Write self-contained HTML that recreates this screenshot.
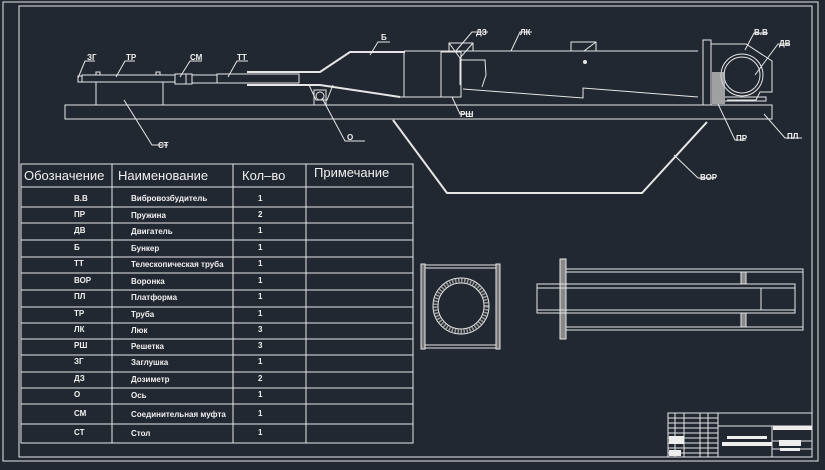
<!DOCTYPE html>
<html><head><meta charset="utf-8"><style>
html,body{margin:0;padding:0;background:#222831;}
svg{display:block}
text{fill:#f0f0f0;font-family:"Liberation Sans","DejaVu Sans",sans-serif;}
.s{stroke:#e6e6e6;stroke-width:1;fill:none}
.t{stroke:#e6e6e6;stroke-width:2;fill:none}
.l{font-size:8px;font-weight:bold}
</style></head><body>
<svg width="825" height="470" viewBox="0 0 825 470" xmlns="http://www.w3.org/2000/svg">
<rect width="825" height="470" fill="#222831"/>
<rect x="3" y="2" width="815" height="459" class="s"/>
<rect x="19" y="6" width="793" height="451" class="s"/>

<!-- platform -->
<rect x="65" y="105" width="707" height="14" class="s"/>
<!-- stand CT -->
<rect x="96" y="82" width="67" height="23" class="s"/>
<!-- pipe TP -->
<rect x="82" y="75" width="93" height="7" class="s"/>
<rect x="78" y="76" width="4" height="6" class="s"/>
<path d="M96 75v-3h4v3M156 75v-3h4v3" class="s"/>
<!-- CM -->
<rect x="175" y="74" width="17" height="10" class="s"/>
<line x1="186" y1="74" x2="186" y2="84" class="s"/>
<rect x="192" y="75" width="25" height="8" class="s"/>
<!-- TT -->
<rect x="217" y="74" width="82" height="9" class="s"/>
<path d="M247 72H300M247 85H300" class="t"/>
<!-- bunker cone -->
<path d="M300 72H320L350 52H405" class="t"/>
<path d="M300 85H320L400 97" class="t"/>
<!-- axis O -->
<path d="M309 85L316 100H327L333 85" class="s"/>
<rect x="314" y="90" width="12" height="15" class="s"/>
<circle cx="320" cy="96" r="4" class="s"/>
<!-- bunker body -->
<path d="M404 51H698" class="s"/>
<path d="M404 51V97M441 51V97" class="s"/>
<path d="M400 97H461" class="s"/>
<rect x="441" y="52" width="20" height="45" class="s"/>
<path d="M461 60L485 60 486 75 482 87" class="s"/>
<path d="M463 89L583 98V88L698 97" class="s"/>
<!-- DZ box -->
<path d="M449 51V43H473V51M449 43L460 58L473 43M460 58V85" class="s"/>
<path d="M571 51V42H596V51M584 51L596 42" class="s"/>
<circle cx="585" cy="62" r="2" fill="#e6e6e6"/>
<!-- flange, motor -->
<rect x="703" y="40" width="8" height="65" class="s"/>
<path d="M711 44H746L772 61V92H760L756 100H727" class="s"/>
<circle cx="742" cy="75" r="21" class="s"/>
<circle cx="742" cy="75" r="18" class="s"/>
<rect x="712" y="72" width="13" height="32" fill="#c8c8c8" opacity="0.75"/>
<path d="M725 97H766V101H725" class="s"/>
<!-- funnel -->
<path d="M393 120L447 193H642L707 122" class="t"/>

<!-- leaders -->
<g class="s">
<path d="M78 78L85 61H95"/><path d="M116 77L125 61H135"/><path d="M180 77L190 61H202"/><path d="M228 77L237 61H248"/>
<path d="M370 55L378 42H390"/><path d="M455 52L472 32H488"/><path d="M511 51L520 32H532"/>
<path d="M745 50L754 33H768"/><path d="M755 75L778 44H790"/>
<path d="M718 104L735 140H746"/><path d="M764 114L785 138H802"/>
<path d="M674 155L698 178H716"/><path d="M322 98L345 141H365"/>
<path d="M124 100L152 145H168"/><path d="M452 97L460 114H473"/>
</g>
<g class="l">
<text x="87" y="60">ЗГ</text><text x="126" y="60">ТР</text><text x="190" y="60">СМ</text><text x="237" y="60">ТТ</text>
<text x="381" y="40">Б</text><text x="476" y="35">ДЗ</text><text x="520" y="35">ЛК</text>
<text x="754" y="35">В.В</text><text x="779" y="46">ДВ</text><text x="736" y="141">ПР</text>
<text x="787" y="139">ПЛ</text><text x="700" y="180">ВОР</text><text x="347" y="140">О</text>
<text x="158" y="148">СТ</text><text x="460" y="117">РШ</text>
</g>

<!-- table -->
<g class="s">
<rect x="21" y="164" width="392" height="279"/>
<path d="M112 164V443M233 164V443M306 164V443"/>
<path d="M21 187H413M21 207H413M21 223H413M21 240H413M21 257H413M21 273H413M21 290H413M21 307H413M21 323H413M21 339H413M21 355H413M21 372H413M21 388H413M21 404H413M21 424H413"/>
</g>
<g font-size="13">
<text x="24" y="180">Обозначение</text><text x="118" y="180">Наименование</text><text x="242" y="180">Кол–во</text><text x="314" y="177">Примечание</text>
</g>
<g class="l">
<text x="74" y="201">В.В</text><text x="131" y="201">Вибровозбудитель</text><text x="258" y="201">1</text>
<text x="74" y="217">ПР</text><text x="131" y="218">Пружина</text><text x="258" y="217">2</text>
<text x="74" y="233">ДВ</text><text x="131" y="234">Двигатель</text><text x="258" y="233">1</text>
<text x="74" y="250">Б</text><text x="131" y="251">Бункер</text><text x="258" y="250">1</text>
<text x="74" y="266">ТТ</text><text x="131" y="267">Телескопическая труба</text><text x="258" y="266">1</text>
<text x="74" y="283">ВОР</text><text x="131" y="284">Воронка</text><text x="258" y="283">1</text>
<text x="74" y="299">ПЛ</text><text x="131" y="300">Платформа</text><text x="258" y="299">1</text>
<text x="74" y="316">ТР</text><text x="131" y="317">Труба</text><text x="258" y="316">1</text>
<text x="74" y="332">ЛК</text><text x="131" y="333">Люк</text><text x="258" y="332">3</text>
<text x="74" y="348">РШ</text><text x="131" y="349">Решетка</text><text x="258" y="348">3</text>
<text x="74" y="364">ЗГ</text><text x="131" y="365">Заглушка</text><text x="258" y="364">1</text>
<text x="74" y="381">ДЗ</text><text x="131" y="382">Дозиметр</text><text x="258" y="381">2</text>
<text x="74" y="397">О</text><text x="131" y="398">Ось</text><text x="258" y="397">1</text>
<text x="74" y="416">СМ</text><text x="131" y="417">Соединительная муфта</text><text x="258" y="416">1</text>
<text x="74" y="435">СТ</text><text x="131" y="436">Стол</text><text x="258" y="435">1</text>
</g>

<!-- section 1 -->
<g class="s">
<rect x="421" y="265" width="79" height="83"/>
<path d="M424 268H497M424 345H497"/>
<rect x="421" y="264" width="4" height="85" fill="#777"/>
<rect x="496" y="264" width="4" height="85" fill="#777"/>
<circle cx="461" cy="306" r="28"/>
<circle cx="461" cy="306" r="23"/>
<circle cx="461" cy="306" r="25.5" stroke="#999" stroke-width="4" stroke-dasharray="1.5 1.5"/>
</g>
<!-- section 2 -->
<g class="s">
<rect x="560" y="259" width="6" height="80" fill="#888"/>
<rect x="566" y="269" width="237" height="61"/>
<path d="M566 272H803M566 327H803"/>
<rect x="537" y="284" width="258" height="29"/>
<path d="M537 288H795M537 310H795"/>
<line x1="761" y1="288" x2="761" y2="310"/>
<rect x="741" y="272" width="5" height="12" fill="#888"/>
<rect x="741" y="313" width="5" height="14" fill="#888"/>
</g>

<!-- title block -->
<g class="s">
<rect x="668" y="413" width="144" height="44"/>
<path d="M718 413V457M772 426V457M718 426H812"/>
<path d="M668 418H718M668 423H718M668 428H718M668 433H718M668 438H718M668 443H718M668 448H718M668 453H718M675 413V457M684 413V457M700 413V457M708 413V457"/>
<path d="M772 441H812M772 449H812"/>
</g>
<rect x="727" y="436" width="40" height="3" fill="#eee"/>
<rect x="722" y="442" width="50" height="4" fill="#eee"/>
<rect x="773" y="426" width="39" height="4" fill="#eee"/>
<rect x="779" y="440" width="22" height="6" fill="#eee"/>
<rect x="780" y="448" width="20" height="3" fill="#eee"/>
<rect x="669" y="436" width="15" height="8" fill="#eee"/>
<rect x="669" y="450" width="12" height="6" fill="#eee"/>
</svg>
</body></html>
